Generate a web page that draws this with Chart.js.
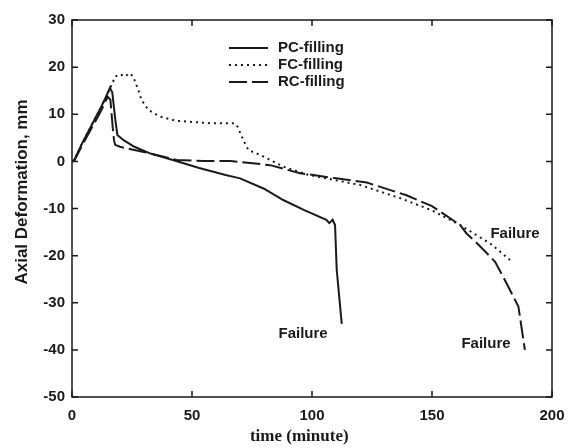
<!DOCTYPE html>
<html>
<head>
<meta charset="utf-8">
<script src="https://cdn.jsdelivr.net/npm/chart.js@4.4.0/dist/chart.umd.min.js"></script>
<style>
  html, body { margin: 0; padding: 0; background: #fff; }
  #wrap { width: 568px; height: 448px; }
</style>
</head>
<body>
<div id="wrap"><canvas id="deformChart"></canvas></div>
<script>
// time (minute) / axial deformation (mm)
const pcTime = [0, 1, 4, 8, 12, 14, 15.8, 16.8, 18, 18.9, 21.5, 26, 32.5, 42, 53, 64, 70, 80, 88, 97, 106, 107.2, 108.6, 109.6, 110.3, 112.4];
const pcDef  = [0, 0.3, 3.6, 7.5, 11.4, 13.5, 15.6, 14.6, 9, 5.6, 4.5, 3.1, 1.7, 0.3, -1.4, -2.9, -3.6, -5.8, -8.2, -10.4, -12.4, -13.1, -12.4, -13.5, -23, -34.5];

const fcTime = [0, 1, 4, 8, 12, 14, 16.5, 18, 20, 22, 24, 25.5, 27.6, 29, 31.8, 36.7, 43.6, 57.5, 67, 68.6, 71.4, 73.5, 78.3, 88, 98, 108.9, 120, 136.7, 150, 161.7, 168, 174.2, 182.5];
const fcDef  = [0, 0.3, 3.6, 7.5, 11.4, 13.5, 16.2, 18, 18.5, 18, 18.7, 18, 15.2, 13, 10.9, 9.5, 8.6, 8.1, 8.1, 7.8, 4.5, 2.4, 1.4, -1.1, -2.8, -3.9, -5, -7.8, -10.4, -13.5, -15.5, -17.4, -20.9];

const rcTime = [0, 1, 4, 8, 12, 14, 14.9, 16, 17, 17.5, 18, 20, 25, 32.5, 43.6, 55, 66, 82.5, 95, 110, 122.8, 139.4, 150, 161.7, 164.4, 170, 176.3, 181.1, 186, 188.7];
const rcDef  = [0, 0.2, 3.2, 6.9, 10.6, 12.8, 13.7, 13.1, 7, 4.5, 3.5, 3.1, 2.5, 1.7, 0.3, 0.1, 0.1, -0.8, -2.5, -3.6, -4.5, -7.2, -9.5, -13.5, -15.3, -18, -21.3, -25.9, -30.8, -40];

const seriesNames = ['PC-filling', 'FC-filling', 'RC-filling'];
const xTicks = [0, 50, 100, 150, 200];
const yTicks = [-50, -40, -30, -20, -10, 0, 10, 20, 30];

// "Failure" notes, placed in data coordinates
const noteX = [96.3, 172.5, 184.6];
const noteY = [-36.6, -38.8, -15.4];

const ink = '#1a1a1a';
const sans = '"Liberation Sans", Arial, sans-serif';
const pts = (xs, ys) => xs.map((x, i) => ({x: x, y: ys[i]}));

// inward ticks, legend and notes
const decor = {
    id: 'decor',
    afterDraw(chart) {
        const c = chart.ctx;
        const a = chart.chartArea;
        const sx = chart.scales.x, sy = chart.scales.y;
        c.save();
        c.strokeStyle = ink;
        c.lineWidth = 1.5;
        c.strokeRect(a.left, a.top, a.right - a.left, a.bottom - a.top);
        c.beginPath();
        yTicks.forEach(v => {
            const p = sy.getPixelForValue(v);
            c.moveTo(a.left, p); c.lineTo(a.left + 6, p);
            c.moveTo(a.right, p); c.lineTo(a.right - 6, p);
        });
        xTicks.forEach(v => {
            const p = sx.getPixelForValue(v);
            c.moveTo(p, a.bottom); c.lineTo(p, a.bottom - 6);
            c.moveTo(p, a.top); c.lineTo(p, a.top + 6);
        });
        c.stroke();

        // legend
        c.font = 'bold 15px ' + sans;
        c.textBaseline = 'middle';
        c.fillStyle = ink;
        const rows = [48, 65, 82];
        chart.data.datasets.forEach((ds, i) => {
            c.beginPath();
            c.setLineDash(ds.borderDash || []);
            c.lineWidth = ds.borderWidth;
            c.moveTo(229, rows[i]); c.lineTo(268, rows[i]);
            c.stroke();
            c.setLineDash([]);
            c.fillText(ds.label, 278, rows[i]);
        });

        c.textAlign = 'center';
        noteX.forEach((x, i) => {
            c.fillText('Failure', sx.getPixelForValue(x), sy.getPixelForValue(noteY[i]));
        });
        c.restore();
    }
};

new Chart(document.getElementById('deformChart'), {
    type: 'line',
    data: {
        datasets: [{
            label: seriesNames[0],
            data: pts(pcTime, pcDef),
            borderColor: ink,
            borderWidth: 2
        }, {
            label: seriesNames[1],
            data: pts(fcTime, fcDef),
            borderColor: ink,
            borderWidth: 2,
            borderDash: [2, 4]
        }, {
            label: seriesNames[2],
            data: pts(rcTime, rcDef),
            borderColor: ink,
            borderWidth: 2,
            borderDash: [18, 5]
        }]
    },
    options: {
        responsive: true,
        maintainAspectRatio: false,
        animation: false,
        layout: {padding: {top: 20, right: 16, left: 0, bottom: 0}},
        elements: {point: {radius: 0}, line: {tension: 0, fill: false}},
        plugins: {legend: {display: false}, tooltip: {enabled: false}},
        scales: {
            x: {
                type: 'linear',
                min: 0, max: 200,
                afterBuildTicks: s => { s.ticks = xTicks.map(v => ({value: v})); },
                afterFit: s => { s.height = 51; s.paddingLeft = 0; s.paddingRight = 0; },
                grid: {display: false, drawTicks: false},
                border: {display: false},
                ticks: {
                    color: ink, padding: 10,
                    font: {family: sans, size: 15, weight: 'bold'}
                },
                title: {
                    display: true, text: 'time (minute)      ', color: ink,
                    padding: {top: 0, bottom: 1},
                    font: {family: '"Liberation Serif", "Times New Roman", serif', size: 17, weight: 'bold'}
                }
            },
            y: {
                min: -50, max: 30,
                afterBuildTicks: s => { s.ticks = yTicks.map(v => ({value: v})); },
                afterFit: s => { s.width = 72; },
                grid: {display: false, drawTicks: false},
                border: {display: false},
                ticks: {
                    color: ink, padding: 7,
                    font: {family: sans, size: 15, weight: 'bold'}
                },
                title: {
                    display: true, text: '       Axial Deformation, mm', color: ink,
                    padding: {top: 12, bottom: 0},
                    font: {family: sans, size: 17, weight: 'bold'}
                }
            }
        }
    },
    plugins: [decor]
});
</script>
</body>
</html>
